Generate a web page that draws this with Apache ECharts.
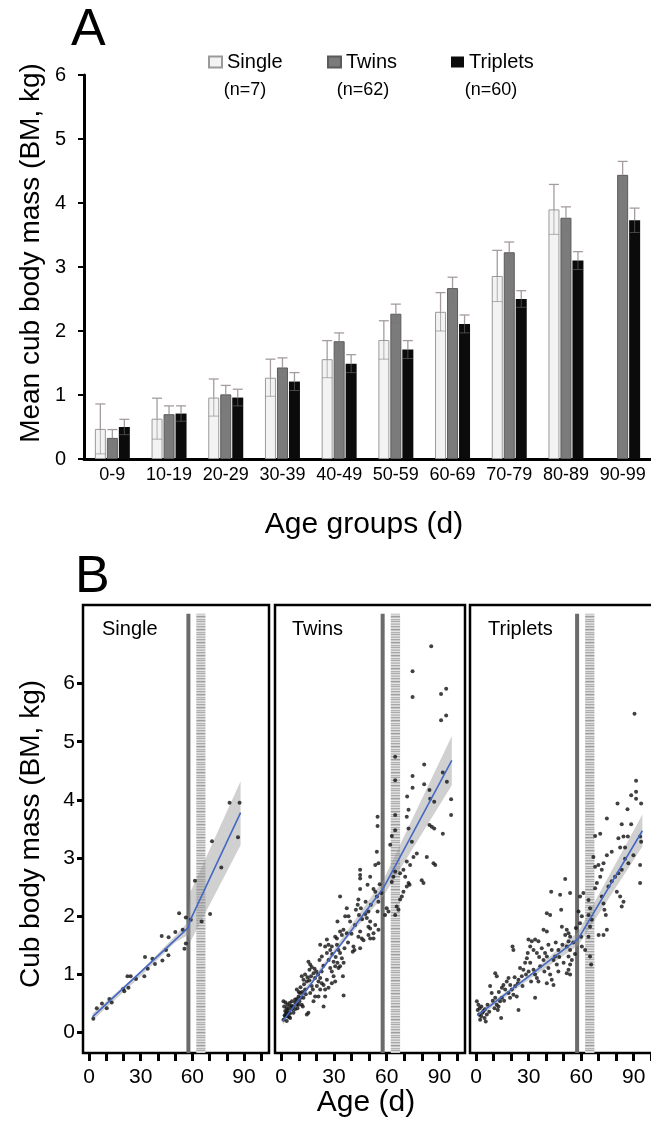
<!DOCTYPE html>
<html>
<head>
<meta charset="utf-8">
<title>Cub body mass</title>
<script src="https://cdn.jsdelivr.net/npm/echarts@6.0.0/dist/echarts.min.js"></script>
<style>
  html, body { margin: 0; padding: 0; background: #fff; }
  #chart { width: 651px; height: 1126px; }
</style>
</head>
<body>
<div id="chart"></div>
<script>
// panel A: mean body mass per age group
const ageGroups = ['0-9', '10-19', '20-29', '30-39', '40-49', '50-59', '60-69', '70-79', '80-89', '90-99']
const singleMean = [0.47, 0.63, 0.96, 1.27, 1.56, 1.86, 2.30, 2.86, 3.90, null]
const singleSd = [0.39, 0.32, 0.29, 0.29, 0.29, 0.30, 0.30, 0.40, 0.39, null]
const twinsMean = [0.33, 0.70, 1.01, 1.43, 1.84, 2.27, 2.67, 3.23, 3.77, 4.44]
const twinsSd = [0.13, 0.13, 0.14, 0.15, 0.13, 0.15, 0.17, 0.16, 0.17, 0.21]
const tripletsMean = [0.50, 0.71, 0.96, 1.21, 1.49, 1.71, 2.11, 2.50, 3.10, 3.73]
const tripletsSd = [0.12, 0.12, 0.13, 0.14, 0.14, 0.14, 0.14, 0.13, 0.14, 0.19]
const litterNames = ['Single', 'Twins', 'Triplets']
const litterCounts = ['(n=7)', '(n=62)', '(n=60)']

// panel B: individual weighings [age d, mass kg]
const singlePts = [
  [2.5, 0.24], [4.5, 0.42], [10.3, 0.42], [11.8, 0.58], [13.2, 0.52], [20.5, 0.71], [22.3, 0.97], [24.2, 0.97],
  [22.9, 0.77], [27.3, 0.92], [32.1, 0.97], [32.5, 1.30], [34.1, 1.10], [36.8, 1.27], [38.3, 1.18], [42.2, 1.66],
  [42.6, 1.24], [44.7, 1.42], [46.2, 1.64], [46.1, 1.33], [50.1, 1.73], [52.3, 2.05], [54.4, 1.77], [55.4, 1.44],
  [56.2, 1.53], [56.2, 1.98], [59.1, 1.94], [61.5, 2.61], [65.4, 1.91], [70.3, 2.04], [76.8, 2.84], [71.4, 3.29],
  [81.6, 3.95], [87.4, 3.95], [86.5, 3.36], [19.8, 0.75], [7.5, 0.50]
]
const twinsPts = [
  [54.4, 3.11], [55.3, 2.91], [53.5, 2.88], [44.9, 2.80], [44.9, 2.71], [44.9, 2.65], [50.6, 2.68], [49.1, 2.54],
  [52.5, 2.47], [53.5, 2.42], [44.9, 2.47], [33.5, 2.34], [54.4, 2.34], [55.3, 2.25], [54.8, 2.08], [43.9, 2.29],
  [43.5, 2.20], [45.3, 2.14], [42.5, 2.11], [44.2, 2.02], [47.8, 2.04], [49.6, 2.08], [48.7, 1.97], [50.6, 1.91],
  [49.6, 1.82], [37.3, 2.14], [38.3, 2.00], [32.0, 1.91], [36.4, 2.00], [39.2, 1.91], [55.3, 1.77], [52.5, 1.71],
  [53.5, 1.85], [50.6, 1.79], [33.5, 1.74], [35.4, 1.77], [37.3, 1.71], [34.5, 1.68], [44.9, 1.74], [43.9, 1.65],
  [45.8, 1.62], [46.8, 1.59], [41.1, 1.48], [41.7, 1.42], [40.7, 1.39], [44.9, 1.45], [49.6, 1.68], [50.6, 1.62],
  [52.5, 1.62], [26.0, 1.60], [26.9, 1.51], [27.9, 1.42], [25.0, 1.48], [28.8, 1.48], [26.0, 1.37], [22.2, 1.51],
  [23.1, 1.31], [21.8, 1.25], [33.5, 1.37], [34.5, 1.28], [32.0, 1.20], [33.5, 1.14], [35.5, 1.20], [32.6, 1.11],
  [35.1, 0.97], [29.8, 1.22], [30.7, 1.14], [35.5, 0.64], [15.5, 1.22], [16.5, 1.17], [16.1, 1.08], [17.4, 1.13],
  [11.7, 0.97], [12.7, 0.91], [13.6, 1.00], [14.6, 0.88], [18.4, 1.02], [19.3, 0.94], [21.2, 0.88], [20.3, 0.80],
  [22.2, 0.94], [23.1, 0.85], [24.1, 0.82], [25.0, 0.74], [26.0, 0.91], [26.9, 0.77], [22.2, 0.74], [21.2, 0.62],
  [24.1, 0.45], [19.3, 0.62], [18.4, 0.54], [16.5, 0.68], [17.4, 0.80], [14.6, 0.31], [15.5, 0.34], [8.9, 0.74],
  [9.9, 0.62], [10.8, 0.68], [7.9, 0.57], [8.9, 0.48], [11.7, 0.48], [12.7, 0.60], [13.6, 0.74], [7.0, 0.45],
  [6.1, 0.40], [5.1, 0.45], [4.2, 0.34], [3.2, 0.42], [2.3, 0.37], [1.3, 0.54], [1.7, 0.45], [2.8, 0.31],
  [3.6, 0.28], [4.8, 0.51], [6.1, 0.54], [1.3, 0.22], [2.3, 0.28], [3.2, 0.20], [5.1, 0.25], [7.0, 0.34],
  [7.9, 0.40], [9.3, 0.42], [9.9, 0.48], [10.4, 0.54], [11.2, 0.60], [12.3, 0.45], [25.0, 0.62], [27.9, 1.11],
  [28.8, 1.05], [29.8, 0.97], [30.7, 0.88], [28.8, 0.85], [31.7, 1.51], [32.6, 1.42], [31.7, 1.62], [30.7, 1.65],
  [2.0, 0.30], [3.0, 0.35], [4.0, 0.40], [5.0, 0.33], [6.0, 0.46], [3.5, 0.48], [2.5, 0.52], [4.5, 0.27],
  [8.0, 0.52], [9.0, 0.58], [10.0, 0.70], [11.0, 0.78], [12.0, 0.70], [13.0, 0.83], [14.0, 0.66], [15.0, 0.95],
  [16.0, 0.90], [17.0, 0.97], [18.0, 0.74], [19.0, 1.10], [20.0, 1.05], [21.0, 1.00], [23.0, 1.05], [24.0, 1.15],
  [27.0, 1.25], [29.0, 1.35], [31.0, 1.30], [36.0, 1.45], [38.0, 1.55], [40.0, 1.70], [42.0, 1.85], [46.0, 1.95],
  [48.0, 2.25], [51.0, 2.20], [56.0, 2.55], [57.0, 2.40],
  [59.1, 2.02], [61.0, 2.08], [60.0, 2.14], [64.8, 2.02], [66.7, 2.11], [65.7, 2.17], [67.6, 2.29], [68.6, 2.34],
  [69.5, 2.42], [71.4, 2.51], [72.4, 2.57], [73.0, 2.54], [70.5, 2.68], [67.6, 2.74], [69.5, 2.80], [73.3, 2.88],
  [71.4, 2.94], [75.2, 3.02], [77.1, 3.08], [79.9, 2.62], [80.9, 2.57], [82.8, 3.02], [86.6, 2.91], [87.6, 2.88],
  [63.8, 2.68], [64.8, 2.77], [62.9, 2.59],
  [85.3, 6.64], [74.7, 6.21], [74.7, 5.77], [93.8, 5.91], [90.9, 5.82], [93.8, 5.45], [90.9, 5.37], [64.8, 4.74],
  [64.8, 4.34], [81.3, 4.61], [74.7, 4.41], [74.7, 4.21], [71.6, 4.06], [81.3, 4.27], [84.3, 4.17], [84.7, 4.02],
  [87.0, 3.97], [91.9, 4.47], [94.2, 4.31], [96.6, 4.01], [96.6, 3.74], [72.4, 3.83], [71.4, 3.71], [72.4, 3.51],
  [64.8, 3.74], [64.8, 3.48], [84.3, 3.57], [85.6, 3.54], [87.0, 3.51], [91.9, 3.42], [54.8, 3.71], [54.8, 3.55],
  [62.0, 3.23], [62.9, 3.38], [74.3, 3.28]
]
const tripletsPts = [
  [0.9, 0.39], [1.7, 0.31], [2.9, 0.28], [3.6, 0.34], [4.8, 0.25], [5.5, 0.19], [2.3, 0.22], [4.2, 0.37],
  [6.1, 0.31], [0.4, 0.54], [1.3, 0.48], [8.0, 0.80], [8.9, 0.68], [10.9, 0.60], [11.8, 0.48], [12.8, 0.45],
  [13.7, 0.54], [14.7, 0.60], [14.3, 0.25], [10.5, 0.42], [12.4, 0.39], [10.9, 1.02], [11.8, 0.97], [15.6, 0.82],
  [16.6, 0.74], [14.7, 0.77], [18.5, 0.68], [19.4, 0.60], [20.4, 0.74], [21.3, 0.65], [22.3, 0.80], [23.2, 0.62],
  [24.2, 0.39], [23.8, 0.85], [20.8, 1.48], [21.3, 1.42], [18.5, 0.94], [24.2, 0.91], [25.1, 1.11], [26.1, 0.97],
  [27.0, 1.08], [28.0, 1.20], [29.0, 1.28], [29.5, 1.37], [29.9, 1.60], [31.8, 1.57], [33.7, 1.60], [35.6, 1.57],
  [30.9, 1.48], [32.8, 1.42], [34.7, 1.37], [30.9, 1.20], [32.8, 1.08], [33.7, 1.00], [34.7, 0.94], [35.6, 0.88],
  [33.7, 0.60], [31.4, 0.88], [36.6, 1.14], [38.5, 1.25], [39.4, 1.37], [40.4, 1.31], [41.3, 1.11], [42.3, 1.00],
  [43.2, 0.91], [44.2, 0.82], [40.4, 0.85], [38.5, 1.77], [40.4, 1.74], [41.3, 1.51], [43.2, 1.42], [44.2, 1.25],
  [40.4, 2.05], [42.3, 2.02], [42.9, 2.42], [48.0, 2.37], [48.6, 2.11], [49.0, 1.82], [50.9, 1.68], [49.3, 1.51],
  [47.0, 1.42], [45.1, 1.31], [46.1, 1.17], [47.0, 1.05], [50.9, 2.64], [53.7, 2.40], [51.8, 1.77], [52.8, 1.71],
  [53.7, 1.65], [52.8, 1.57], [51.8, 1.48], [53.7, 1.42], [52.8, 1.31], [54.7, 1.25], [53.7, 1.17], [52.8, 1.08],
  [51.8, 1.02], [53.7, 1.00], [2.0, 0.42], [3.0, 0.45], [5.0, 0.40], [6.5, 0.48], [7.5, 0.36], [9.5, 0.55],
  [13.0, 0.70], [16.0, 0.55], [17.5, 0.88], [19.5, 0.82], [22.0, 0.95], [26.5, 0.80], [28.5, 1.00], [30.0, 1.05],
  [36.0, 1.30], [37.5, 1.45], [39.0, 1.05], [45.5, 1.55], [47.5, 1.30], [50.0, 1.20], [55.5, 1.55], [56.5, 1.35],
  [57.0, 1.80],
  [59.4, 2.34], [61.3, 2.40], [58.5, 2.08], [60.4, 2.00], [59.4, 1.88], [60.0, 1.65], [60.4, 1.48], [62.3, 1.42],
  [64.2, 2.28], [65.1, 2.14], [64.2, 2.02], [66.1, 1.94], [65.1, 1.82], [64.2, 1.65], [65.1, 1.31], [65.7, 1.17],
  [68.0, 2.48], [69.0, 2.57], [70.9, 2.68], [71.8, 2.80], [72.8, 2.91], [74.7, 3.05], [77.5, 3.11], [69.9, 2.88],
  [68.0, 2.85], [67.0, 3.02], [71.8, 2.34], [72.8, 2.22], [73.3, 2.11], [74.1, 2.02], [74.7, 1.77], [72.8, 1.68],
  [70.0, 1.68], [75.6, 2.51], [77.5, 2.60], [79.4, 2.68], [81.3, 2.74], [83.2, 2.80], [80.4, 2.42], [82.3, 2.34],
  [84.2, 2.25], [83.2, 2.17], [85.1, 2.99], [87.0, 2.91], [89.9, 3.05], [93.7, 2.88], [93.7, 2.57],
  [90.5, 5.48], [91.4, 4.33], [91.4, 4.14], [88.6, 4.08], [91.4, 4.02], [94.3, 3.94], [80.8, 3.94], [86.5, 3.84],
  [74.7, 3.68], [83.2, 3.58], [88.6, 3.58], [68.0, 3.38], [70.9, 3.42], [81.3, 3.34], [84.2, 3.37], [86.7, 3.37],
  [93.7, 3.37], [94.3, 3.28], [82.3, 3.18], [85.1, 3.18]
]

// segmented fits and their confidence bands
const singleFit = [[2, 0.27], [57.5, 1.80], [58.6, 1.92], [88, 3.78]]
const singleCiUpper = [[2, 0.33], [30, 1.06], [50, 1.66], [57.5, 1.90], [58.6, 2.40], [88, 4.32]]
const singleCiLower = [[2, 0.21], [30, 0.97], [50, 1.55], [57.5, 1.68], [58.6, 1.55], [88, 3.22]]
const twinsFit = [[1, 0.20], [58, 2.48], [97, 4.68]]
const twinsCiUpper = [[1, 0.25], [30, 1.43], [58, 2.62], [97, 5.10]]
const twinsCiLower = [[1, 0.13], [30, 1.35], [58, 2.34], [97, 4.25]]
const tripletsFit = [[1, 0.30], [58.5, 1.62], [95, 3.47]]
const tripletsCiUpper = [[1, 0.35], [30, 0.99], [58.5, 1.74], [95, 3.75]]
const tripletsCiLower = [[1, 0.25], [30, 0.91], [58.5, 1.50], [95, 3.20]]

// weaning marks (d) and axis ticks
const weanLine = 57.7
const weanBand = [62.3, 67.6]
const weanTop = 7.2
const xTicksB = [0, 10, 20, 30, 40, 50, 60, 70, 80, 90, 100]
const xLabelsB = [0, 30, 60, 90]
const yTicksB = [0, 1, 2, 3, 4, 5, 6]

const FONT = '"Liberation Sans", Arial, Helvetica, sans-serif'
const B_MIN = -0.35
const B_MAX = 7.35

const stripes = (function () {
  const shades = ['#bdbdbd', '#e2e2e2', '#a8a8a8', '#cfcfcf', '#dadada', '#9e9e9e',
    '#c4c4c4', '#e6e6e6', '#b3b3b3', '#d4d4d4', '#ababab', '#dedede', '#c9c9c9']
  const c = document.createElement('canvas')
  c.width = 2
  c.height = shades.length
  const ctx = c.getContext('2d')
  shades.forEach((s, i) => {
    ctx.fillStyle = s
    ctx.fillRect(0, i, 2, 1)
  })
  return c
})()

function errorBars(means, sds, slot) {
  const upper = { stroke: '#a59d9d', lineWidth: 1.3 }
  const lower = { stroke: 'rgba(120,120,120,0.55)', lineWidth: 1 }
  return {
    type: 'custom',
    xAxisIndex: 0,
    yAxisIndex: 0,
    z: 5,
    silent: true,
    encode: { x: 0, y: 1 },
    data: means.map((m, i) => [i, m, sds[i]]).filter(d => d[1] != null),
    renderItem(params, api) {
      const i = api.value(0)
      const m = api.value(1)
      const s = api.value(2)
      const cx = api.coord([i, 0])[0] + slot * 12
      const yTop = api.coord([i, m + s])[1]
      const yMid = api.coord([i, m])[1]
      const yBot = api.coord([i, m - s])[1]
      return {
        type: 'group',
        children: [
          { type: 'line', shape: { x1: cx, y1: yTop, x2: cx, y2: yMid }, style: upper },
          { type: 'line', shape: { x1: cx - 5, y1: yTop, x2: cx + 5, y2: yTop }, style: upper },
          { type: 'line', shape: { x1: cx, y1: yMid, x2: cx, y2: yBot }, style: lower },
          { type: 'line', shape: { x1: cx - 5, y1: yBot, x2: cx + 5, y2: yBot }, style: lower }
        ]
      }
    }
  }
}

function weanMarks(k) {
  return {
    type: 'custom',
    xAxisIndex: k,
    yAxisIndex: k,
    z: 1,
    silent: true,
    data: [[weanLine, weanTop]],
    renderItem(params, api) {
      const top = api.coord([weanLine, weanTop])[1]
      const bottom = api.coord([weanLine, B_MIN])[1]
      const x0 = api.coord([weanBand[0], 0])[0]
      const x1 = api.coord([weanBand[1], 0])[0]
      const lx = api.coord([weanLine, 0])[0]
      return {
        type: 'group',
        children: [
          { type: 'rect', shape: { x: x0, y: top, width: x1 - x0, height: bottom - top },
            style: { fill: { image: stripes, repeat: 'repeat' } } },
          { type: 'line', shape: { x1: lx, y1: top, x2: lx, y2: bottom },
            style: { stroke: '#6b6b6b', lineWidth: 4 } }
        ]
      }
    }
  }
}

function ciBand(upper, lower, k) {
  return {
    type: 'custom',
    xAxisIndex: k,
    yAxisIndex: k,
    z: 2,
    silent: true,
    clip: true,
    data: [upper[0]],
    renderItem(params, api) {
      const pts = upper.map(p => api.coord(p))
        .concat(lower.slice().reverse().map(p => api.coord(p)))
      return { type: 'polygon', shape: { points: pts }, style: { fill: 'rgba(150,150,150,0.45)' } }
    }
  }
}

function panelB(pts, fit, ciUp, ciLo, k) {
  return [
    weanMarks(k),
    ciBand(ciUp, ciLo, k),
    {
      type: 'scatter',
      xAxisIndex: k,
      yAxisIndex: k,
      z: 3,
      symbol: 'circle',
      symbolSize: 4,
      itemStyle: { color: '#111' },
      data: pts
    },
    {
      type: 'line',
      xAxisIndex: k,
      yAxisIndex: k,
      z: 4,
      symbol: 'none',
      lineStyle: { color: '#4468c4', width: 1.6 },
      data: fit
    }
  ]
}

function legendAt(name, left) {
  return {
    data: [name],
    left: left,
    top: 52,
    padding: 0,
    icon: 'rect',
    itemWidth: 13,
    itemHeight: 11,
    selectedMode: false,
    textStyle: { fontSize: 20, color: '#000', fontFamily: FONT }
  }
}

function bAxisX(k) {
  return {
    gridIndex: k,
    type: 'value',
    min: -3.5,
    max: 104.5,
    axisLine: { show: false, onZero: false },
    axisTick: { show: true, inside: false, length: 8, customValues: xTicksB, lineStyle: { color: '#000', width: 3 } },
    axisLabel: { customValues: xLabelsB, margin: 14, fontSize: 21, color: '#000', fontFamily: FONT },
    splitLine: { show: false }
  }
}

function bAxisY(k) {
  return {
    gridIndex: k,
    type: 'value',
    min: B_MIN,
    max: B_MAX,
    show: k === 1,
    axisLine: { show: false, onZero: false },
    axisTick: { show: true, inside: false, length: 6, customValues: yTicksB, lineStyle: { color: '#000', width: 3 } },
    axisLabel: { customValues: yTicksB, margin: 8, fontSize: 21, color: '#000', fontFamily: FONT },
    splitLine: { show: false }
  }
}

const frame = { show: true, borderColor: '#000', borderWidth: 2.5, backgroundColor: 'transparent', outerBoundsMode: 'none', containLabel: false }

function label(text, x, y, size, align, rotation) {
  return {
    type: 'text',
    x: x,
    y: y,
    rotation: rotation || 0,
    z: 100,
    style: { text: text, fontSize: size, fontFamily: FONT, fill: '#000', textAlign: align || 'left', textVerticalAlign: 'middle' }
  }
}

const chart = echarts.init(document.getElementById('chart'))

chart.setOption({
  animation: false,
  backgroundColor: '#fff',
  grid: [
    { left: 84, top: 75, width: 567, height: 384, outerBoundsMode: 'none', containLabel: false },
    Object.assign({ left: 83, top: 605, width: 186, height: 448 }, frame),
    Object.assign({ left: 275, top: 605, width: 190, height: 448 }, frame),
    Object.assign({ left: 470, top: 605, width: 189, height: 448 }, frame)
  ],
  legend: [
    legendAt(litterNames[0], 208),
    legendAt(litterNames[1], 327),
    legendAt(litterNames[2], 451)
  ],
  xAxis: [
    {
      gridIndex: 0,
      type: 'category',
      data: ageGroups,
      axisLine: { show: true, lineStyle: { color: '#000', width: 3 } },
      axisTick: { show: false },
      axisLabel: { margin: 7, fontSize: 18, color: '#000', fontFamily: FONT, interval: 0 }
    },
    bAxisX(1), bAxisX(2), bAxisX(3)
  ],
  yAxis: [
    {
      gridIndex: 0,
      type: 'value',
      min: 0,
      max: 6,
      interval: 1,
      axisLine: { show: true, lineStyle: { color: '#000', width: 3 } },
      axisTick: { show: true, inside: false, length: 6, lineStyle: { color: '#000', width: 2 } },
      axisLabel: { margin: 18, fontSize: 20, color: '#000', fontFamily: FONT },
      splitLine: { show: false }
    },
    bAxisY(1), bAxisY(2), bAxisY(3)
  ],
  graphic: [
    label('A', 71, 31, 52),
    label('B', 75, 578, 52),
    label('Mean cub body mass (BM, kg)', 31, 253, 28, 'center', Math.PI / 2),
    label('Age groups (d)', 364, 525, 30, 'center'),
    label(litterCounts[0], 245, 90, 18, 'center'),
    label(litterCounts[1], 363, 90, 18, 'center'),
    label(litterCounts[2], 491, 90, 18, 'center'),
    label(litterNames[0], 102, 629, 20),
    label(litterNames[1], 292, 629, 20),
    label(litterNames[2], 488, 629, 20),
    label('Cub body mass (BM, kg)', 31, 834, 28, 'center', Math.PI / 2),
    label('Age (d)', 366, 1103, 30, 'center')
  ],
  series: [
    {
      name: 'Single',
      type: 'bar',
      xAxisIndex: 0,
      yAxisIndex: 0,
      barWidth: 11,
      barGap: '9%',
      itemStyle: { color: '#f3f3f3', borderColor: '#9a9a9a', borderWidth: 1 },
      data: singleMean
    },
    {
      name: 'Twins',
      type: 'bar',
      xAxisIndex: 0,
      yAxisIndex: 0,
      barWidth: 11,
      barGap: '9%',
      itemStyle: { color: '#7b7b7b', borderColor: '#5a5a5a', borderWidth: 1 },
      data: twinsMean
    },
    {
      name: 'Triplets',
      type: 'bar',
      xAxisIndex: 0,
      yAxisIndex: 0,
      barWidth: 11,
      barGap: '9%',
      itemStyle: { color: '#0b0b0b' },
      data: tripletsMean
    },
    errorBars(singleMean, singleSd, -1),
    errorBars(twinsMean, twinsSd, 0),
    errorBars(tripletsMean, tripletsSd, 1),
    ...panelB(singlePts, singleFit, singleCiUpper, singleCiLower, 1),
    ...panelB(twinsPts, twinsFit, twinsCiUpper, twinsCiLower, 2),
    ...panelB(tripletsPts, tripletsFit, tripletsCiUpper, tripletsCiLower, 3)
  ]
})
</script>
</body>
</html>
